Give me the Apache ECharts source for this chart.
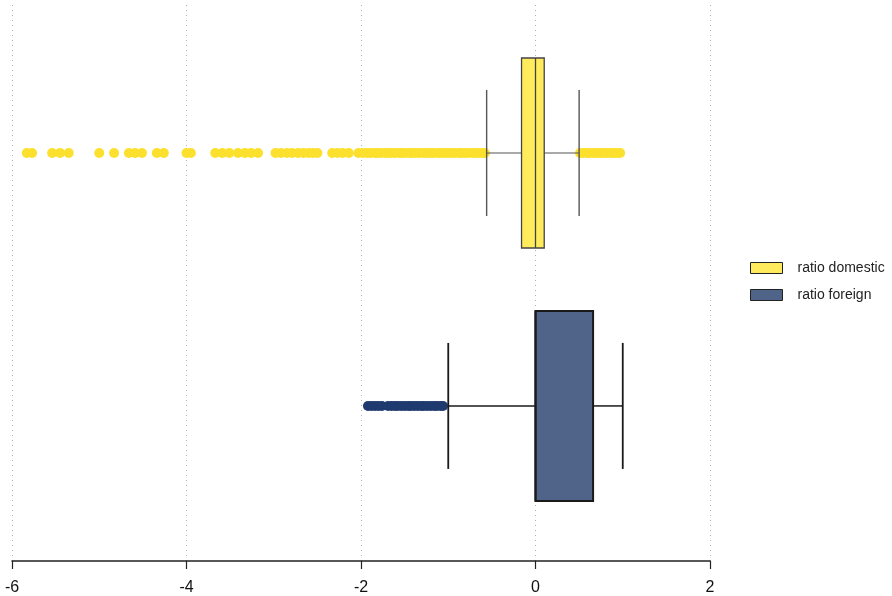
<!DOCTYPE html>
<html>
<head>
<meta charset="utf-8">
<script src="https://cdn.jsdelivr.net/npm/echarts@6/dist/echarts.min.js"></script>
<style>
  html, body { margin: 0; padding: 0; background: #ffffff; }
  #chart { width: 892px; height: 596px; }
</style>
</head>
<body>
<div id="chart"></div>
<script>
// Categories, top to bottom
const categories = ['ratio domestic', 'ratio foreign'];

// Box summaries: lower whisker, Q1, median, Q3, upper whisker
const domesticBox = [-0.56, -0.16, 0.00, 0.10, 0.50];
const foreignBox = [-1.00, 0.00, 0.00, 0.66, 1.00];

// Points beyond the whiskers
const domesticOutliers = [
  -5.83, -5.77, -5.54, -5.45, -5.35, -5.00, -4.83, -4.66, -4.59, -4.51,
  -4.34, -4.26, -4.00, -3.95, -3.67, -3.59, -3.51, -3.41, -3.33, -3.26, -3.18,
  -2.98, -2.92, -2.85, -2.79, -2.72, -2.66, -2.60, -2.55, -2.50,
  -2.33, -2.27, -2.21, -2.14, -2.03, -1.98,
  -1.93, -1.89, -1.84, -1.81, -1.77, -1.72, -1.69, -1.65, -1.61, -1.56,
  -1.53, -1.49, -1.44, -1.41, -1.37, -1.33, -1.28, -1.25, -1.21, -1.17,
  -1.12, -1.09, -1.05, -1.01, -0.97, -0.93, -0.88, -0.85, -0.81, -0.77,
  -0.72, -0.69, -0.65, -0.61, -0.58,
  0.51, 0.55, 0.59, 0.62, 0.66, 0.69, 0.73, 0.76, 0.80, 0.83, 0.87, 0.90, 0.94, 0.97
];
const foreignOutliers = [
  -1.92, -1.88, -1.84, -1.80, -1.76, -1.69, -1.65, -1.61, -1.58, -1.54,
  -1.50, -1.46, -1.43, -1.39, -1.35, -1.31, -1.28, -1.24, -1.20, -1.16,
  -1.13, -1.09, -1.06
];

// Axis ticks
const xTicks = [-6, -4, -2, 0, 2];

const yellowBox = '#FFEB5C';
const yellowDot = '#FCE02E';
const blueBox = '#506389';
const blueDot = '#1F3A6F';

// categories[i] sits at y = categories.length - i on a hidden value axis
const yPos = i => categories.length - i;

function makeBoxRenderer(stroke) {
  return function (params, api) {
    const y = api.value(0);
    const lo = api.coord([api.value(1), y]);
    const q1 = api.coord([api.value(2), y]);
    const md = api.coord([api.value(3), y]);
    const q3 = api.coord([api.value(4), y]);
    const hi = api.coord([api.value(5), y]);
    const cy = lo[1];
    const bh = 95, ch = 63;
    const lineW = { stroke: stroke.whisker, lineWidth: stroke.whiskerWidth };
    return {
      type: 'group',
      children: [
        { type: 'line', shape: { x1: lo[0], y1: cy, x2: q1[0], y2: cy }, style: { stroke: stroke.whisker, lineWidth: stroke.stemWidth } },
        { type: 'line', shape: { x1: q3[0], y1: cy, x2: hi[0], y2: cy }, style: { stroke: stroke.whisker, lineWidth: stroke.stemWidth } },
        { type: 'line', shape: { x1: lo[0], y1: cy - ch, x2: lo[0], y2: cy + ch }, style: lineW },
        { type: 'line', shape: { x1: hi[0], y1: cy - ch, x2: hi[0], y2: cy + ch }, style: lineW },
        { type: 'rect', shape: { x: q1[0], y: cy - bh, width: q3[0] - q1[0], height: bh * 2 },
          style: { fill: api.visual('color'), stroke: stroke.box, lineWidth: stroke.boxWidth } },
        { type: 'line', shape: { x1: md[0], y1: cy - bh, x2: md[0], y2: cy + bh }, style: { stroke: stroke.box, lineWidth: stroke.boxWidth } }
      ]
    };
  };
}

const chart = echarts.init(document.getElementById('chart'), null, { renderer: 'canvas' });

chart.setOption({
  animation: false,
  backgroundColor: '#ffffff',
  grid: { left: 12, right: 182, top: 5, bottom: 35 },
  xAxis: {
    type: 'value',
    min: xTicks[0],
    max: xTicks[xTicks.length - 1],
    interval: 2,
    axisLine: { show: true, lineStyle: { color: '#222', width: 1.5 } },
    axisTick: { show: true, length: 8, lineStyle: { color: '#222', width: 1.2 } },
    axisLabel: { fontSize: 16, color: '#111', margin: 19, fontFamily: 'Liberation Sans Narrow, Liberation Sans, Arial' },
    splitLine: { show: true, showMinLine: true, showMaxLine: true, lineStyle: { color: '#b0b0b0', width: 1, type: [1, 4] } }
  },
  yAxis: {
    type: 'value',
    min: 0.387,
    max: 2.585,
    show: false
  },
  legend: {
    orient: 'vertical',
    left: 745,
    top: 256,
    itemWidth: 32,
    itemHeight: 11,
    itemGap: 13,
    data: [
      { name: categories[0], icon: 'rect' },
      { name: categories[1], icon: 'rect' }
    ],
    itemStyle: { borderColor: '#222', borderWidth: 1 },
    textStyle: { fontSize: 14, color: '#222', fontFamily: 'Liberation Sans, Arial', padding: [0, 0, 0, 10] }
  },
  series: [
    {
      name: categories[0] + ' outliers',
      type: 'scatter',
      symbolSize: 10,
      itemStyle: { color: yellowDot, opacity: 1 },
      silent: true,
      z: 2,
      data: domesticOutliers.map(v => [v, yPos(0)])
    },
    {
      name: categories[1] + ' outliers',
      type: 'scatter',
      symbolSize: 10,
      itemStyle: { color: blueDot, opacity: 1 },
      silent: true,
      z: 2,
      data: foreignOutliers.map(v => [v, yPos(1)])
    },
    {
      name: categories[0],
      type: 'custom',
      z: 3,
      itemStyle: { color: yellowBox, borderColor: '#222', borderWidth: 1 },
      renderItem: makeBoxRenderer({ box: '#444', boxWidth: 1.3, whisker: '#555', whiskerWidth: 1.4, stemWidth: 1.2 }),
      encode: { x: [1, 2, 3, 4, 5], y: 0 },
      data: [[yPos(0)].concat(domesticBox)]
    },
    {
      name: categories[1],
      type: 'custom',
      z: 3,
      itemStyle: { color: blueBox, borderColor: '#222', borderWidth: 1 },
      renderItem: makeBoxRenderer({ box: '#1a1a1a', boxWidth: 2, whisker: '#1a1a1a', whiskerWidth: 1.8, stemWidth: 1.5 }),
      encode: { x: [1, 2, 3, 4, 5], y: 0 },
      data: [[yPos(1)].concat(foreignBox)]
    }
  ]
});
</script>
</body>
</html>
